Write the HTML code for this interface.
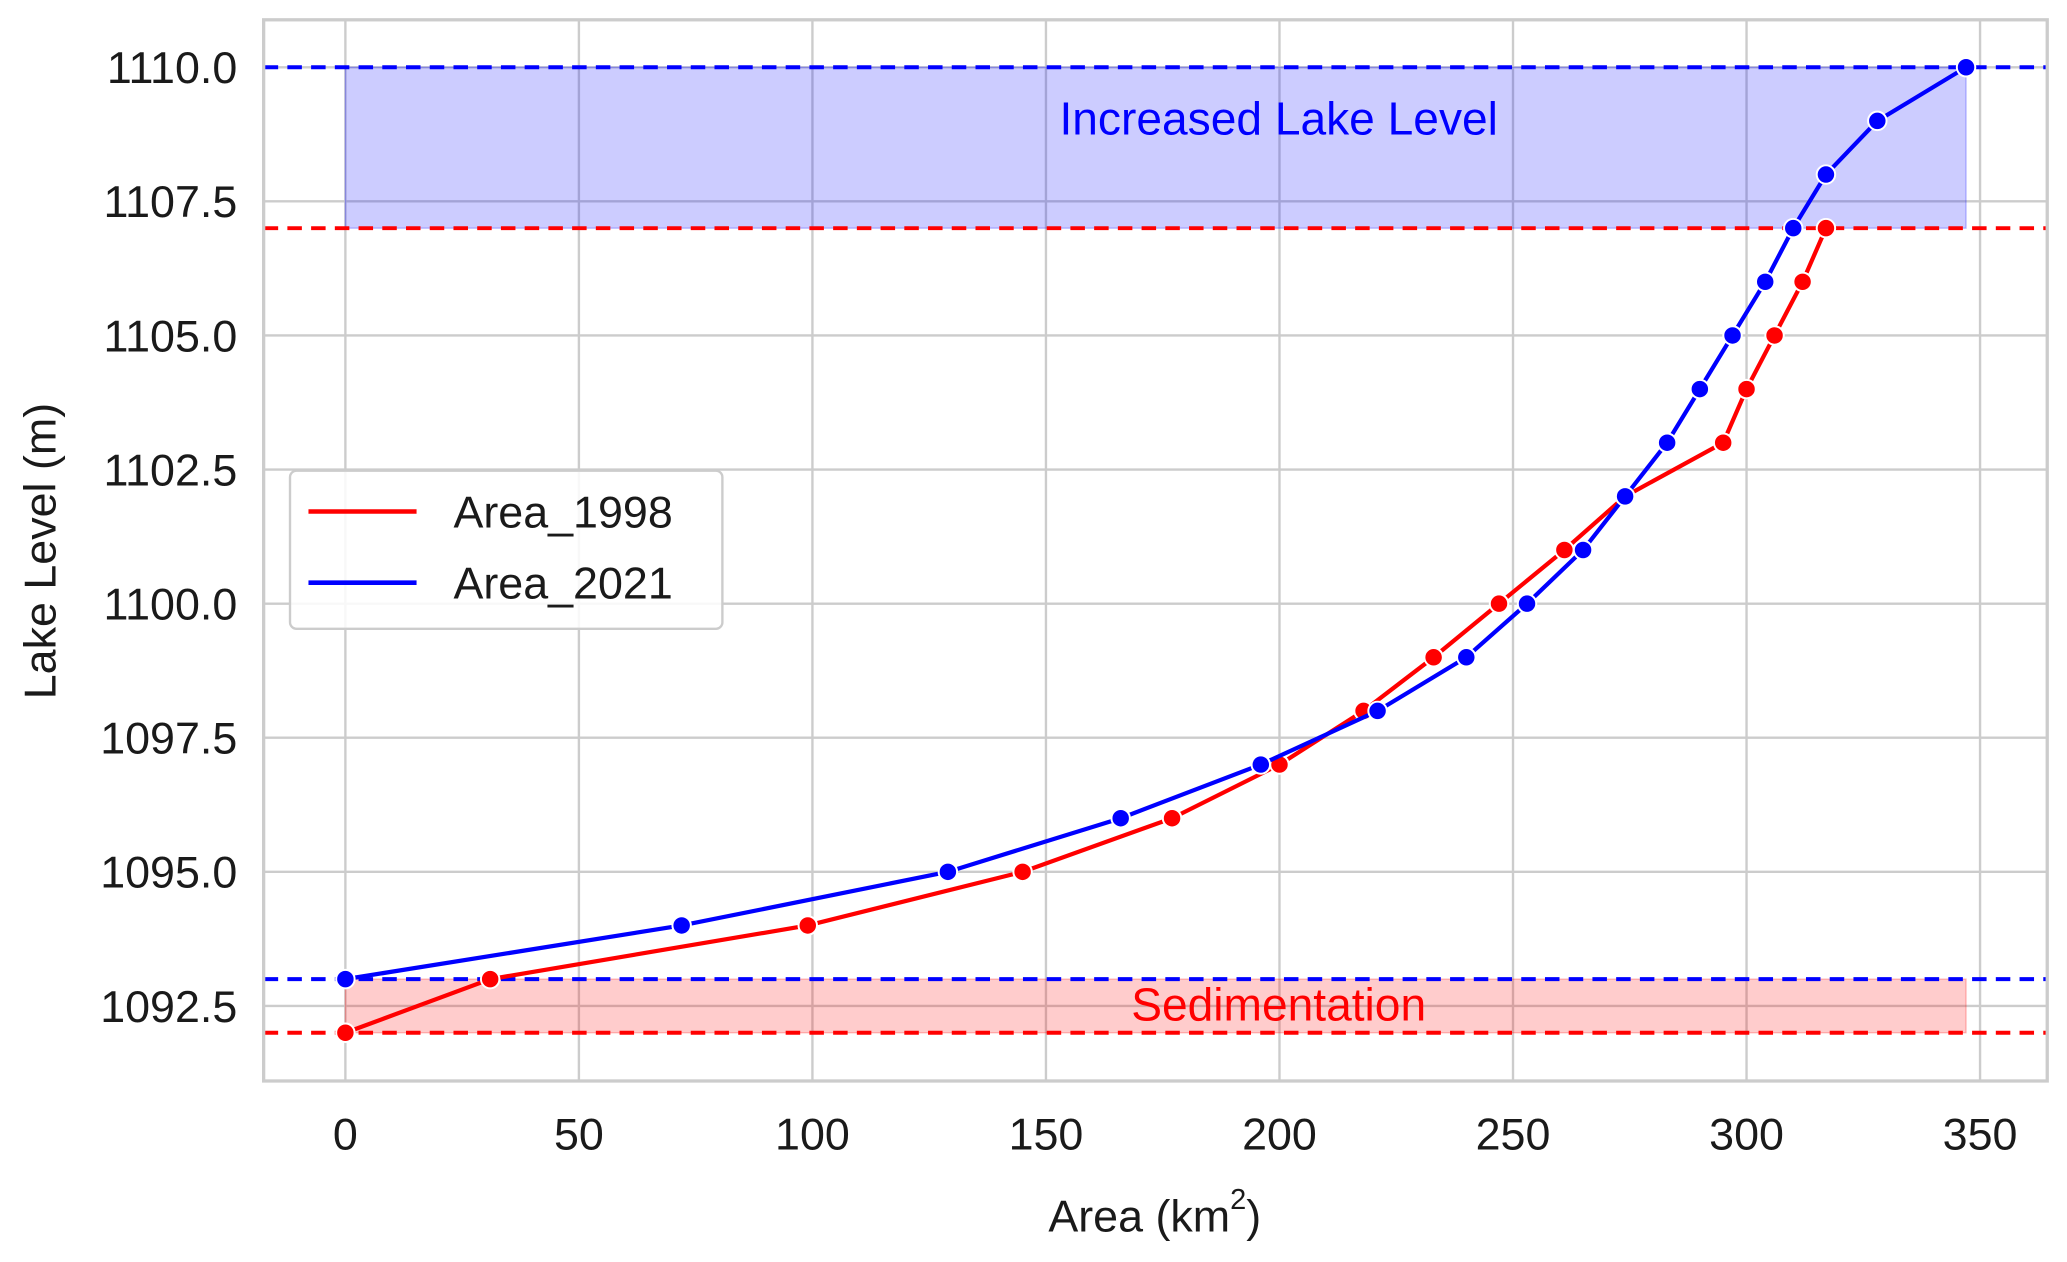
<!DOCTYPE html>
<html><head><meta charset="utf-8"><style>
html,body{margin:0;padding:0;background:#fff;}
svg{display:block;font-family:"Liberation Sans",Arial,sans-serif;}
</style></head><body>
<svg id="chart" width="2067" height="1262" viewBox="0 0 1568 957.3" xmlns="http://www.w3.org/2000/svg">
<g id="grid"></g>
<g id="bands"></g>
<g id="series"></g>
<g id="axes"></g>
</svg>
<script>
const area1998 = [0,31,99,145,177,200,218,233,247,261,274,295,300,306,312,317];
const level1998 = [1092,1093,1094,1095,1096,1097,1098,1099,1100,1101,1102,1103,1104,1105,1106,1107];
const area2021 = [0,72,129,166,196,221,240,253,265,274,283,290,297,304,310,317,328,347];
const level2021 = [1093,1094,1095,1096,1097,1098,1099,1100,1101,1102,1103,1104,1105,1106,1107,1108,1109,1110];
const xTicks = [0,50,100,150,200,250,300,350];
const yTicks = [1092.5,1095.0,1097.5,1100.0,1102.5,1105.0,1107.5,1110.0];

const NS="http://www.w3.org/2000/svg";
const L=200,R=1553,T=15,B=820;
function sx(v){return 262+v*3.543;}
function sy(v){return 51+(1110-v)*40.69;}
function mk(tag,attrs,parent){const e=document.createElementNS(NS,tag);for(const k in attrs)e.setAttribute(k,attrs[k]);parent.appendChild(e);return e;}
const grid=document.getElementById('grid'),bands=document.getElementById('bands'),series=document.getElementById('series'),axes=document.getElementById('axes');

xTicks.forEach(t=>{
 const g=mk('line',{x1:sx(t),x2:sx(t),y1:T,y2:B,stroke:'#cccccc','stroke-width':1.8},grid);
 
 
 const tx=mk('text',{x:sx(t),y:872,'font-size':34,'text-anchor':'middle',fill:'#1a1a1a'},axes);
 tx.textContent=t;
 
 
});
yTicks.forEach(t=>{
 const g=mk('line',{x1:L,x2:R,y1:sy(t),y2:sy(t),stroke:'#cccccc','stroke-width':1.8},grid);
 
 
 const tx=mk('text',{x:180,y:sy(t)+12,'font-size':34,'text-anchor':'end',fill:'#1a1a1a'},axes);
 tx.textContent=t.toFixed(1);
 
 
});

const maxA=347;
let r1=mk('rect',{x:sx(0),y:sy(1110),width:sx(maxA)-sx(0),height:sy(1107)-sy(1110),fill:'rgba(0,0,255,0.2)',stroke:'rgba(0,0,255,0.25)','stroke-width':1},bands);


let r2=mk('rect',{x:sx(0),y:sy(1093),width:sx(maxA)-sx(0),height:sy(1092)-sy(1093),fill:'rgba(255,0,0,0.2)',stroke:'rgba(255,0,0,0.25)','stroke-width':1},bands);


[[1110,'#0000ff'],[1107,'#ff0000'],[1093,'#0000ff'],[1092,'#ff0000']].forEach(([v,c])=>{
 const d=mk('line',{x1:L,x2:R,y1:sy(v),y2:sy(v),stroke:c,'stroke-width':3,'stroke-dasharray':'11 7'},bands);
 
 
});
let a1=mk('text',{x:970,y:102,'font-size':35,'text-anchor':'middle',fill:'#0000ff'},bands);
a1.textContent='Increased Lake Level';


let a2=mk('text',{x:970,y:774,'font-size':35,'text-anchor':'middle',fill:'#ff0000'},bands);
a2.textContent='Sedimentation';



function drawSeries(xs,ys,color,name){
 const pts=xs.map((x,i)=>sx(x)+','+sy(ys[i])).join(' ');
 const pl=mk('polyline',{points:pts,fill:'none',stroke:color,'stroke-width':3.2},series);
 
 
 xs.forEach((x,i)=>{
  const c=mk('circle',{cx:sx(x),cy:sy(ys[i]),r:7,fill:color,stroke:'#fff','stroke-width':1.5},series);
  
  
 });
}
drawSeries(area1998,level1998,'#ff0000','area-1998');
drawSeries(area2021,level2021,'#0000ff','area-2021');

let fr=mk('rect',{x:L,y:T,width:R-L,height:B-T,fill:'none',stroke:'#cccccc','stroke-width':2.5},axes);



const lg=mk('g',{},axes);


mk('rect',{x:220,y:357,width:328,height:120,rx:5,fill:'rgba(255,255,255,0.85)',stroke:'#cccccc','stroke-width':1.8},lg);
[['Area_1998','#ff0000',388],['Area_2021','#0000ff',442]].forEach(([t,c,y])=>{
 const ln=mk('line',{x1:234,x2:316,y1:y,y2:y,stroke:c,'stroke-width':3.5},lg);
 
 
 const tx=mk('text',{x:344,y:y+12,'font-size':34,fill:'#1a1a1a'},lg);
 tx.textContent=t;
 
 
});

let xt=mk('text',{x:876,y:934,'font-size':34,'text-anchor':'middle',fill:'#1a1a1a'},axes);
xt.innerHTML='Area (km<tspan font-size="22" dy="-17">2</tspan><tspan dy="17">)</tspan>';


let yt=mk('text',{x:0,y:0,'font-size':34,'text-anchor':'middle',fill:'#1a1a1a',transform:'translate(42,418) rotate(-90)'},axes);
yt.textContent='Lake Level (m)';


</script>
</body></html>
